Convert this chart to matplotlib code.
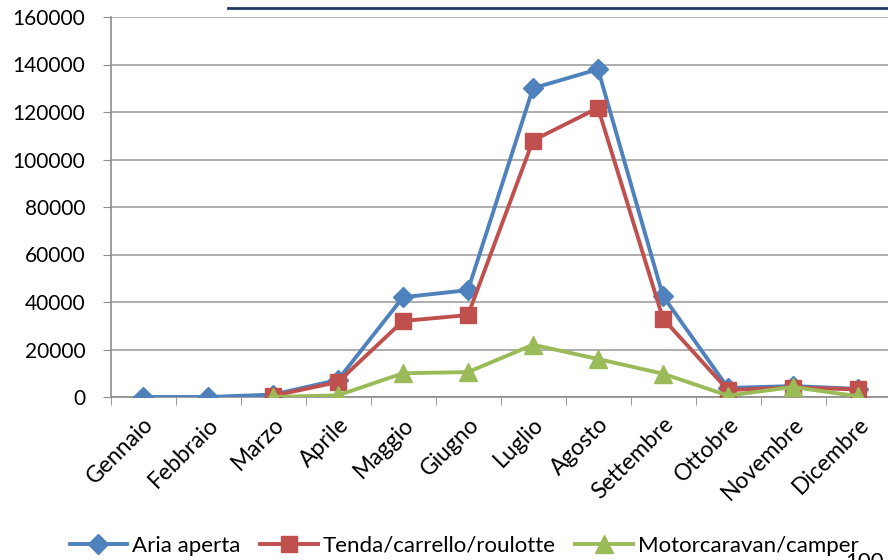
import numpy as np
import matplotlib
matplotlib.use('Agg')
import matplotlib.pyplot as plt

mesi = ['Gennaio', 'Febbraio', 'Marzo', 'Aprile', 'Maggio', 'Giugno',
        'Luglio', 'Agosto', 'Settembre', 'Ottobre', 'Novembre', 'Dicembre']
aria_aperta = [0, 0, 1000, 7200, 42000, 45000, 130000, 138000, 42500, 3800, 4600, 3400]
tenda = [np.nan, np.nan, 500, 6300, 32000, 34500, 108000, 121700, 33000, 2900, 4000, 3200]
camper = [np.nan, np.nan, 0, 700, 10000, 10500, 22000, 16000, 9800, 600, 4200, 300]

plt.rcParams['font.family'] = ['Lato', 'DejaVu Sans']

fig = plt.figure(figsize=(8.88, 5.6), dpi=100)
ax = fig.add_axes([110.5/888, 1 - 397/560, 780/888, 380/560])

x = np.arange(len(mesi))
ax.plot(x, aria_aperta, color='#4F81BD', lw=2.8, marker='D', ms=10, label='Aria aperta', zorder=3)
ax.plot(x, tenda, color='#C0504D', lw=2.8, marker='s', ms=12, label='Tenda/carrello/roulotte', zorder=4)
ax.plot(x, camper, color='#9BBB59', lw=2.8, marker='^', ms=13, label='Motorcaravan/camper', zorder=5)

ax.set_xlim(-0.5, 11.5)
ax.set_ylim(0, 160000)
ax.set_yticks(range(0, 160001, 20000))
ax.tick_params(axis='y', labelsize=15, length=6, color='#8C8C8C', pad=12)
ax.set_xticks(x)
ax.set_xticklabels(mesi, rotation=45, ha='right', rotation_mode='anchor', fontsize=16.5)
ax.set_xticks(np.arange(-0.5, 12, 1), minor=True)
ax.tick_params(axis='x', which='major', length=0, pad=12)
ax.tick_params(axis='x', which='minor', length=6, color='#8C8C8C')
ax.grid(axis='y', color='#A0A0A0', lw=1.2)
ax.set_axisbelow(True)
for s in ['top', 'right']:
    ax.spines[s].set_visible(False)
for s in ['left', 'bottom']:
    ax.spines[s].set_color('#8C8C8C')
    ax.spines[s].set_linewidth(1.2)

fig.legend(loc='center', bbox_to_anchor=(464/888, 1 - 546/560), ncol=3, frameon=False,
           fontsize=16, handlelength=2.6, columnspacing=0.9, handletextpad=0.2)

# decorative line at top right and cut-off text
fig.add_artist(plt.Line2D([228/888, 1], [1 - 8/560, 1 - 8/560], color='#1F3A60', lw=2))
fig.text(845/888, 1 - 572/560, '100', fontsize=16, va='bottom')

fig.savefig('out.png', dpi=100)
